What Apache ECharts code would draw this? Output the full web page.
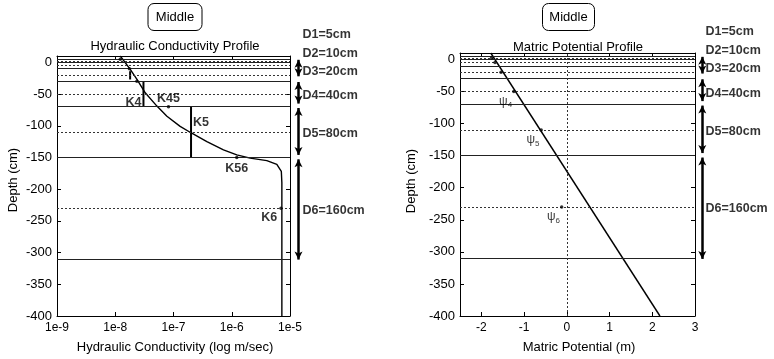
<!DOCTYPE html>
<html><head><meta charset="utf-8">
<script src="https://cdn.jsdelivr.net/npm/echarts@6/dist/echarts.min.js"></script>
<style>html,body{margin:0;padding:0;background:#fff}#c{width:774px;height:359px}</style>
</head><body><div id="c"></div>
<script>
// ---------------- data ----------------
const layerNames = ['D1=5cm', 'D2=10cm', 'D3=20cm', 'D4=40cm', 'D5=80cm', 'D6=160cm'];
const layerBoundaries = [5, 0, -10, -30, -70, -150, -310];
const nodeDepths = [2.5, -5, -20, -50, -110, -230];
const layerLabelDepths = [44, 14, -14, -53, -113, -233];
const arrowTops = [4, -31, -72, -153];      // arrows for D3..D6
const arrowBottoms = [-22, -65, -146, -311];
const depthTicks = [0, -50, -100, -150, -200, -250, -300, -350, -400];

// hydraulic conductivity profile (m/sec) vs depth (cm)
const kCurveK = [1.22e-8, 1.81e-8, 2.36e-8, 3.27e-8, 5.19e-8, 7.71e-8, 1.30e-7, 1.99e-7,
                 3.74e-7, 7.21e-7, 1.22e-6, 2.07e-6, 4.0e-6, 5.94e-6, 7.1e-6, 7.25e-6, 7.25e-6];
const kCurveDepth = [10, -11, -27, -48, -69, -85, -101, -111,
                     -125, -138, -146, -151, -155, -161, -172, -190, -400];
const kMarkK = [1.22e-8, 1.75e-8, 2.35e-8, 8.2e-8, 1.22e-6, 7.0e-6];
const kMarkDepth = [5, -10, -30, -70, -150, -230];
const kMarkName = ['', '', '', 'K45', 'K56', 'K6'];
const kBarK = [1.8e-8, 3.05e-8, 2.0e-7];
const kBarTop = [-14, -30, -70];
const kBarBottom = [-27, -70, -150];
const kBarName = ['', 'K4', 'K5'];

// matric potential profile (m) vs depth (cm)
const psiFitX = [-1.78, 2.18];
const psiFitDepth = [10, -400];
const psiObs = [-1.76, -1.68, -1.54, -1.24, -0.60, -0.12];
const psiName = ['', '', '', '4', '5', '6'];
const psiTicks = [-2, -1, 0, 1, 2, 3];

// ---------------- chart ----------------
const FONT = 'Liberation Sans, Arial, Helvetica, sans-serif';
const chart = echarts.init(document.getElementById('c'), null, {renderer: 'canvas'});

const G0 = {left: 57, top: 56, width: 233, height: 260};
const G1 = {left: 460, top: 53, width: 235, height: 263};

function yAx(grid, pos, labels) {
  return {
    type: 'value', gridIndex: grid, position: pos, min: -400, max: 10,
    axisLine: {show: true, onZero: false, lineStyle: {color: '#000', width: 1}},
    axisTick: {show: true, inside: true, length: 4, customValues: depthTicks, lineStyle: {color: '#000'}},
    axisLabel: {show: labels, customValues: depthTicks, margin: 5, color: '#000', fontSize: 13, fontFamily: FONT},
    splitLine: {show: false}
  };
}

const layerMarkLine = {
  silent: true, symbol: 'none', animation: false,
  label: {show: false},
  data: layerBoundaries.map(d => ({yAxis: d, lineStyle: {type: 'solid', color: '#222', width: 1}}))
    .concat(nodeDepths.map(d => ({yAxis: d, lineStyle: {type: [2, 2], color: '#333', width: 1}})))
};

const series = [];
// K curve
series.push({
  type: 'line', xAxisIndex: 0, yAxisIndex: 0, showSymbol: false, silent: true,
  data: kCurveK.map((k, i) => [k, kCurveDepth[i]]),
  lineStyle: {color: '#000', width: 1.4},
  markLine: layerMarkLine, z: 3
});
// K bars
kBarK.forEach((k, i) => {
  series.push({
    type: 'line', xAxisIndex: 0, yAxisIndex: 0, showSymbol: false, silent: true,
    data: [[k, kBarTop[i]], [k, kBarBottom[i]]],
    lineStyle: {color: '#000', width: 2}, z: 4
  });
});
// K bar labels
const barLabelCfg = {
  'K4': {position: 'left', distance: 2, offset: [0, 8]},
  'K5': {position: 'right', distance: 2, offset: [0, -10]}
};
series.push({
  type: 'scatter', xAxisIndex: 0, yAxisIndex: 0, symbolSize: 0, silent: true,
  data: kBarK.map((k, i) => ({
    name: kBarName[i], value: [k, (kBarTop[i] + kBarBottom[i]) / 2],
    label: Object.assign({show: kBarName[i] !== ''}, barLabelCfg[kBarName[i]] || {})
  })),
  label: {formatter: '{b}', color: '#000', fontSize: 12.5, fontWeight: 'bold', fontFamily: FONT}, z: 5
});
// K markers
const markLabelCfg = {
  'K45': {position: 'top', distance: 0},
  'K56': {position: 'bottom', distance: 3},
  'K6': {position: 'left', distance: 2, offset: [0, 9]}
};
series.push({
  type: 'scatter', xAxisIndex: 0, yAxisIndex: 0, symbolSize: 3.5, silent: true,
  itemStyle: {color: '#000'},
  data: kMarkK.map((k, i) => ({
    name: kMarkName[i], value: [k, kMarkDepth[i]],
    label: Object.assign({show: kMarkName[i] !== ''}, markLabelCfg[kMarkName[i]] || {})
  })),
  label: {formatter: '{b}', color: '#000', fontSize: 12.5, fontWeight: 'bold', fontFamily: FONT}, z: 5
});

// psi fitted line
series.push({
  type: 'line', xAxisIndex: 2, yAxisIndex: 2, showSymbol: false, silent: true,
  data: psiFitX.map((x, i) => [x, psiFitDepth[i]]),
  lineStyle: {color: '#000', width: 1.4},
  markLine: {
    silent: true, symbol: 'none', label: {show: false},
    data: layerMarkLine.data.concat([{xAxis: 0, lineStyle: {type: [2, 2], color: '#333', width: 1}}])
  }, z: 3
});
// psi observed
series.push({
  type: 'scatter', xAxisIndex: 2, yAxisIndex: 2, symbolSize: 3.5, silent: true,
  itemStyle: {color: '#000'},
  data: psiObs.map((x, i) => ({
    name: psiName[i], value: [x, nodeDepths[i]],
    label: {show: psiName[i] !== '', position: 'left', distance: 0, offset: [0, 10]}
  })),
  label: {
    formatter: p => '{a|ψ}{b|' + p.name + '}',
    rich: {
      a: {fontSize: 12, fontFamily: FONT, color: '#000'},
      b: {fontSize: 8, fontFamily: FONT, color: '#000', padding: [7, 0, 0, 0]}
    }
  }, z: 5
});

// layer annotations (D labels + arrows)
function annot(xi, yi, arrowX, labelX) {
  return {
    type: 'scatter', xAxisIndex: xi, yAxisIndex: yi, symbolSize: 0, silent: true, clip: false,
    data: layerNames.map((n, i) => ({name: n, value: [labelX, layerLabelDepths[i]]})),
    label: {show: true, position: 'right', distance: 0, formatter: '{b}', color: '#000',
            fontSize: 12.5, fontWeight: 'bold', fontFamily: FONT},
    markLine: {
      silent: true, symbol: ['arrow', 'arrow'], symbolSize: [6, 8],
      label: {show: false},
      lineStyle: {color: '#000', width: 2.5, type: 'solid'},
      data: arrowTops.map((t, i) => [{coord: [arrowX, t]}, {coord: [arrowX, arrowBottoms[i]]}])
    }
  };
}
series.push(annot(4, 4, 8.5, 12.5));
series.push(annot(5, 5, 7.3, 10.5));

const option = {
  animation: false,
  backgroundColor: '#fff',
  textStyle: {fontFamily: FONT},
  grid: [
    Object.assign({}, G0),
    Object.assign({}, G1),
    {left: 290, top: G0.top, width: 84, height: G0.height},
    {left: 695, top: G1.top, width: 79, height: G1.height}
  ],
  xAxis: [
    {type: 'log', logBase: 10, gridIndex: 0, position: 'bottom', min: 1e-9, max: 1e-5,
     axisLine: {show: true, onZero: false, lineStyle: {color: '#000'}},
     axisTick: {show: true, inside: true, length: 4, lineStyle: {color: '#000'}},
     axisLabel: {color: '#000', fontSize: 12, fontFamily: FONT, margin: 6,
                 formatter: v => '1e' + Math.round(Math.log10(v))},
     splitLine: {show: false}},
    {type: 'log', logBase: 10, gridIndex: 0, position: 'top', min: 1e-9, max: 1e-5,
     axisLine: {show: true, onZero: false, lineStyle: {color: '#000'}},
     axisTick: {show: true, inside: true, length: 4, lineStyle: {color: '#000'}},
     axisLabel: {show: false}, splitLine: {show: false}},
    {type: 'value', gridIndex: 1, position: 'bottom', min: -2.5, max: 3,
     axisLine: {show: true, onZero: false, lineStyle: {color: '#000'}},
     axisTick: {show: true, inside: true, length: 4, customValues: psiTicks, lineStyle: {color: '#000'}},
     axisLabel: {customValues: psiTicks, color: '#000', fontSize: 12, fontFamily: FONT, margin: 6},
     splitLine: {show: false}},
    {type: 'value', gridIndex: 1, position: 'top', min: -2.5, max: 3,
     axisLine: {show: true, onZero: false, lineStyle: {color: '#000'}},
     axisTick: {show: true, inside: true, length: 4, customValues: psiTicks, lineStyle: {color: '#000'}},
     axisLabel: {show: false}, splitLine: {show: false}},
    {type: 'value', gridIndex: 2, min: 0, max: 84, show: false},
    {type: 'value', gridIndex: 3, min: 0, max: 79, show: false}
  ],
  yAxis: [
    yAx(0, 'left', true),
    yAx(0, 'right', false),
    yAx(1, 'left', true),
    yAx(1, 'right', false),
    {type: 'value', gridIndex: 2, min: -400, max: 10, show: false},
    {type: 'value', gridIndex: 3, min: -400, max: 10, show: false}
  ],
  graphic: [
    {type: 'rect', shape: {x: 148, y: 3.5, width: 54, height: 27, r: 6},
     style: {fill: 'none', stroke: '#000', lineWidth: 1}},
    {type: 'text', x: 175, y: 17, style: {text: 'Middle', font: '13px ' + FONT, fill: '#000', align: 'center', verticalAlign: 'middle'}},
    {type: 'rect', shape: {x: 542.5, y: 3.5, width: 52, height: 27, r: 6},
     style: {fill: 'none', stroke: '#000', lineWidth: 1}},
    {type: 'text', x: 568.5, y: 17, style: {text: 'Middle', font: '13px ' + FONT, fill: '#000', align: 'center', verticalAlign: 'middle'}},
    {type: 'text', x: 175, y: 46, style: {text: 'Hydraulic Conductivity Profile', font: '13px ' + FONT, fill: '#000', align: 'center', verticalAlign: 'middle'}},
    {type: 'text', x: 578, y: 47.5, style: {text: 'Matric Potential Profile', font: '13px ' + FONT, fill: '#000', align: 'center', verticalAlign: 'middle'}},
    {type: 'text', x: 175, y: 347, style: {text: 'Hydraulic Conductivity (log m/sec)', font: '13px ' + FONT, fill: '#000', align: 'center', verticalAlign: 'middle'}},
    {type: 'text', x: 579, y: 347, style: {text: 'Matric Potential (m)', font: '13px ' + FONT, fill: '#000', align: 'center', verticalAlign: 'middle'}},
    {type: 'text', x: 13, y: 180, rotation: Math.PI / 2, style: {text: 'Depth (cm)', font: '13px ' + FONT, fill: '#000', align: 'center', verticalAlign: 'middle'}},
    {type: 'text', x: 411, y: 181, rotation: Math.PI / 2, style: {text: 'Depth (cm)', font: '13px ' + FONT, fill: '#000', align: 'center', verticalAlign: 'middle'}}
  ],
  series: series
};
chart.setOption(option);
</script>
</body></html>
